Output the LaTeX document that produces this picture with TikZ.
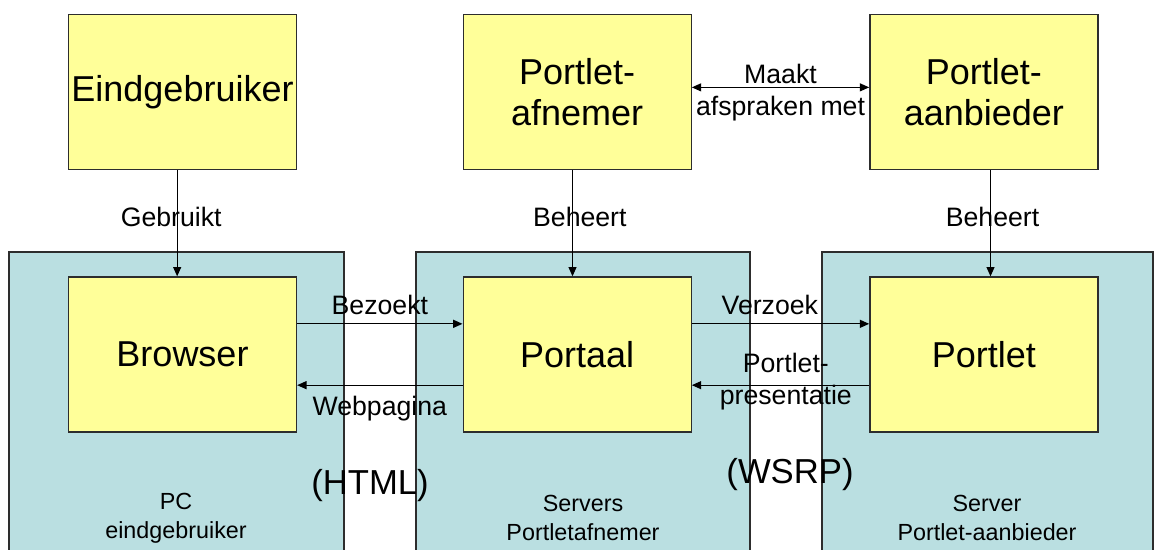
\documentclass[tikz,border=0pt]{standalone}
\usepackage{fontspec}
\setmainfont{Liberation Sans}
\usetikzlibrary{arrows.meta, calc}
\usetikzlibrary{positioning}

\definecolor{boxyellow}{RGB}{255,255,153}
\definecolor{zoneblue}{RGB}{186,223,225}
\definecolor{edgegray}{RGB}{45,45,45}

\tikzset{
    actor/.style = {draw = edgegray, fill = boxyellow, line width = 1pt,
        minimum width = 171pt, minimum height = 116.25pt, inner sep = 1pt,
        font = \fontsize{27}{31}\selectfont, align = center},
    zone/.style = {draw = edgegray, fill = zoneblue, line width = 1pt},
    flow/.style = {-{Triangle[length = 7pt, width = 6pt]}, line width = 0.9pt},
    both/.style = {{Triangle[length = 7pt, width = 6pt]}-{Triangle[length = 7pt, width = 6pt]},
        line width = 0.9pt},
    tag/.style = {font = \fontsize{20}{24}\selectfont, inner sep = 2pt, align = center},
    zonetag/.style = {font = \fontsize{17.5}{22}\selectfont, align = center},
    proto/.style = {font = \fontsize{26}{30}\selectfont}
}

\begin{document}
\begin{tikzpicture}[x = 0.75pt, y = -0.75pt]

    \useasboundingbox (0,0) rectangle (1155,549);

    % the three machines
    \begin{scope}
        \clip (0,0) rectangle (1155,549);
        \foreach \LEFT/\RIGHT in {9/344, 416/750, 822/1153}
            \draw[zone] (\LEFT,252) rectangle (\RIGHT,570);
    \end{scope}

    \node[actor] (browser) at (182.5,354.5) {Browser};
    \node[actor, right = 124pt of browser] (portaal) {Portaal};
    \node[actor, right = 133pt of portaal] (portlet) {Portlet};

    \node[actor, above = 79.5pt of browser] (eind) {Eindgebruiker};
    \node[actor, above = 79.5pt of portaal] (afnemer) {Portlet-\\afnemer};
    \node[actor, above = 79.5pt of portlet] (aanbieder) {Portlet-\\aanbieder};

    \draw[flow] ([xshift = -4pt]eind.south) --
        node[tag, pos = 0.44, xshift = -4.5pt] {Gebruikt} ([xshift = -4pt]browser.north);
    \draw[flow] ([xshift = -3.5pt]afnemer.south) --
        node[tag, pos = 0.44, xshift = 5.5pt] {Beheert} ([xshift = -3.5pt]portaal.north);
    \draw[flow] ([xshift = 5pt]aanbieder.south) --
        node[tag, pos = 0.44, xshift = 1.5pt] {Beheert} ([xshift = 5pt]portlet.north);

    \draw[both] ([yshift = 3.6pt]afnemer.east) --
        node[tag, above] {Maakt} node[tag, below, yshift = -4pt] {afspraken met}
        ([yshift = 3.6pt]aanbieder.west);

    \draw[flow] ([yshift = 23pt]browser.east) --
        node[tag, above, yshift = 4.5pt] {Bezoekt} ([yshift = 23pt]portaal.west);
    \draw[flow] ([yshift = -23pt]portaal.west) --
        node[tag, below, yshift = -6pt] {Webpagina} ([yshift = -23pt]browser.east);

    \draw[flow] ([yshift = 23pt]portaal.east) --
        node[tag, above, pos = 0.44, yshift = 4.5pt] {Verzoek} ([yshift = 23pt]portlet.west);
    \draw[flow] ([yshift = -23pt]portlet.west) --
        node[tag, pos = 0.47, yshift = 3pt] {Portlet-\\presentatie} ([yshift = -23pt]portaal.east);

    \node[proto] (html) at (370,486) {(HTML)};
    \node[proto] (wsrp) at (790,475) {(WSRP)};

    \node[zonetag] (pctag) at (176,518) {PC\\eindgebruiker};
    \node[zonetag] (srvtag) at (583,518) {Servers\\Portletafnemer};
    \node[zonetag] (aanbtag) at (987,518) {Server\\Portlet-aanbieder};

\end{tikzpicture}
\end{document}
